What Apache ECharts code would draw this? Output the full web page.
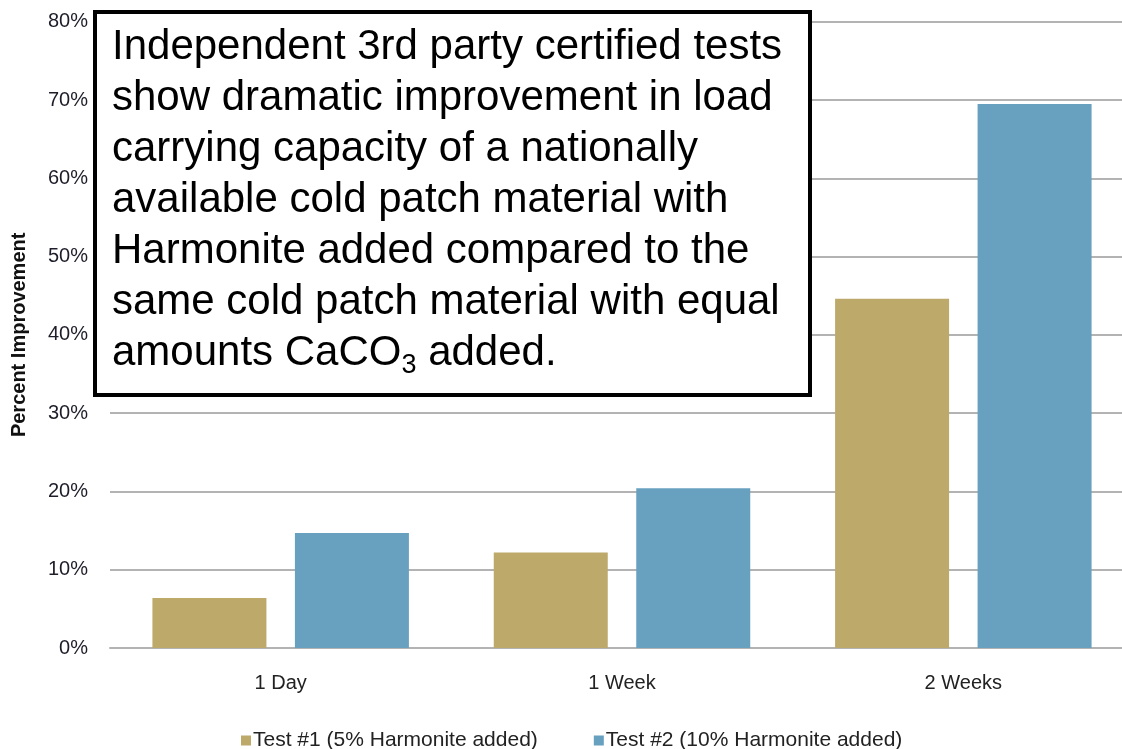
<!DOCTYPE html>
<html>
<head>
<meta charset="utf-8">
<script src="https://cdn.jsdelivr.net/npm/echarts@6/dist/echarts.min.js"></script>
<style>
  html, body { margin: 0; padding: 0; background: #fff; }
  #main { width: 1122px; height: 749px; }
</style>
</head>
<body>
<div id="main"></div>
<script>
var periods = ['1 Day', '1 Week', '2 Weeks'];
var test1 = [6.4, 12.2, 44.6];
var test2 = [14.7, 20.4, 69.5];
var seriesNames = ['Test #1 (5% Harmonite added)', 'Test #2 (10% Harmonite added)'];
var noteLines = [
  'Independent 3rd party certified tests',
  'show dramatic improvement in load',
  'carrying capacity of a nationally',
  'available cold patch material with',
  'Harmonite added compared to the',
  'same cold patch material with equal',
  'amounts CaCO{sub|3} added.'
];

var chartDom = document.getElementById('main');
var myChart = echarts.init(chartDom);
var font = 'Liberation Sans, Arial, sans-serif';

var option = {
  animation: false,
  textStyle: { fontFamily: font },
  grid: {
    left: 110, top: 21.7, width: 1024, height: 626.3,
    containLabel: false,
    outerBoundsMode: 'none'
  },
  legend: {
    top: 725,
    left: 236,
    itemWidth: 10,
    itemHeight: 10,
    itemGap: 56,
    icon: 'rect',
    textStyle: { fontSize: 21, color: '#222', fontFamily: font, padding: [0, 0, 0, -3] },
    data: seriesNames
  },
  xAxis: {
    type: 'category',
    data: periods,
    axisTick: { show: false },
    axisLine: { lineStyle: { color: '#b3b3b3', width: 2 } },
    axisLabel: { fontSize: 20, color: '#222', margin: 25, fontFamily: font }
  },
  yAxis: {
    type: 'value',
    min: 0,
    max: 80,
    interval: 10,
    name: 'Percent Improvement',
    nameLocation: 'middle',
    nameGap: 81,
    nameTextStyle: { fontSize: 20, fontWeight: 'bold', color: '#111', fontFamily: font },
    axisLabel: { formatter: '{value}%', fontSize: 20, color: '#1e1e2a', margin: 22, fontFamily: font },
    splitLine: { lineStyle: { color: '#b3b3b3', width: 2 } },
    axisLine: { show: false },
    axisTick: { show: false }
  },
  series: [
    {
      name: seriesNames[0],
      type: 'bar',
      data: test1,
      barWidth: 114,
      barGap: '25%',
      itemStyle: { color: '#bda96a' }
    },
    {
      name: seriesNames[1],
      type: 'bar',
      data: test2,
      barWidth: 114,
      itemStyle: { color: '#68a0bf' }
    }
  ],
  graphic: [
    {
      type: 'rect',
      z: 100,
      shape: { x: 95, y: 12, width: 715, height: 383 },
      style: { fill: '#fff', stroke: '#000', lineWidth: 4 }
    },
    {
      type: 'text',
      z: 101,
      x: 112,
      y: 22,
      style: {
        text: noteLines.join('\n'),
        font: '42px Liberation Sans, Arial, sans-serif',
        fill: '#000',
        lineHeight: 51,
        rich: {
          sub: { fontSize: 27, lineHeight: 27, verticalAlign: 'bottom', fill: '#000' }
        }
      }
    }
  ]
};

option && myChart.setOption(option);
</script>
</body>
</html>
